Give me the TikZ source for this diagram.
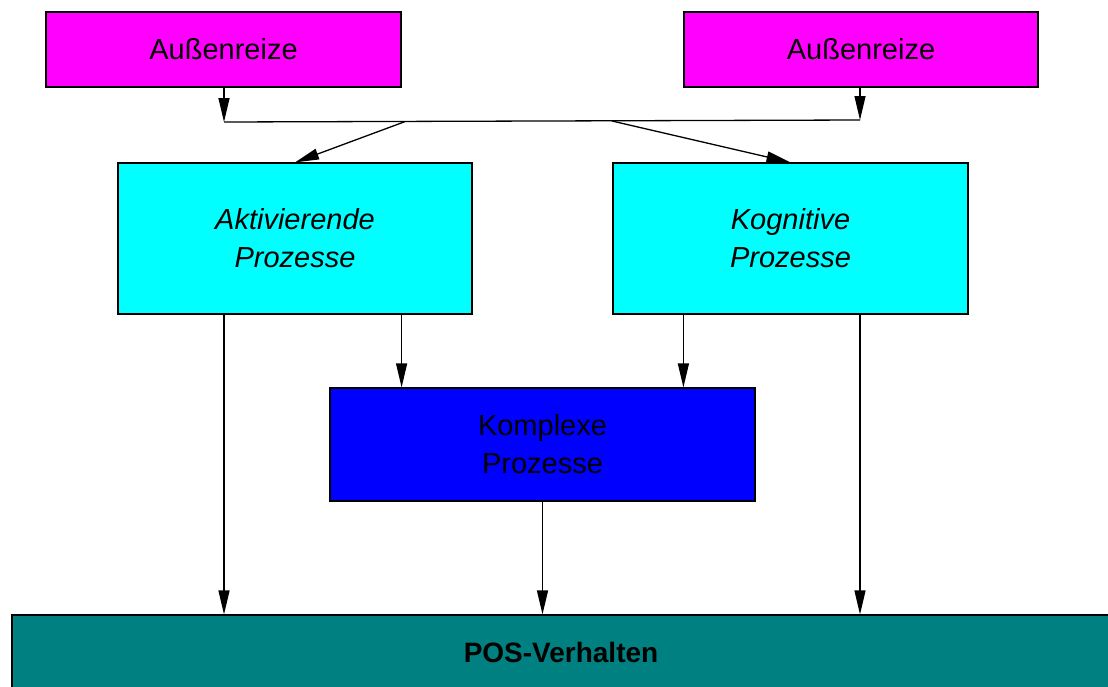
\documentclass[tikz,border=0pt]{standalone}
\usepackage{fontspec}
\setmainfont{Liberation Sans}
\usetikzlibrary{arrows.meta}
\definecolor{cmag}{RGB}{255,0,255}
\definecolor{ccyan}{RGB}{0,255,255}
\definecolor{cblue}{RGB}{0,0,255}
\definecolor{cteal}{RGB}{0,128,128}
\begin{document}
\begin{tikzpicture}[x=1pt,y=-1pt,
  box/.style={draw=black, line width=1.2pt, inner sep=0pt, align=center, font=\fontsize{29}{38}\selectfont},
  arr/.style={line width=1.3pt, -{Triangle[length=24pt,width=11pt]}},
  ln/.style={line width=1.3pt}]
\useasboundingbox (0,0) rectangle (1108,686);
\node[box, fill=cmag, minimum width=355pt, minimum height=75pt] (a1) at (223.5,49.5) {Außenreize};
\node[box, fill=cmag, minimum width=354pt, minimum height=75pt] (a2) at (861,49.5) {Außenreize};
\node[box, fill=ccyan, minimum width=354pt, minimum height=151pt] (akt) at (295,238.5) {\itshape Aktivierende\\\itshape Prozesse};
\node[box, fill=ccyan, minimum width=355pt, minimum height=151pt] (kog) at (790.5,238.5) {\itshape Kognitive\\\itshape Prozesse};
\node[box, fill=cblue, minimum width=425pt, minimum height=113pt] (kom) at (542.5,444.5) {Komplexe\\Prozesse};
\node[box, fill=cteal, minimum width=1098pt, minimum height=75pt, font=\fontsize{28}{34}\selectfont\bfseries] (pos) at (561,652.5) {POS-Verhalten};
\coordinate (jl) at (224,122);
\coordinate (jr) at (860,120);
\coordinate (s1) at (405,121.6);
\coordinate (s2) at (612,121);
\draw[arr] (a1.south -| jl) -- (jl);
\draw[arr] (a2.south -| jr) -- (jr);
\draw[ln] (jl) -- (jr);
\draw[arr] (s1) -- (akt.north);
\draw[arr] (s2) -- (kog.north);
\draw[arr] (akt.south -| jl) -- (pos.north -| jl);
\draw[arr] (akt.south -| a1.east) -- (kom.north -| a1.east);
\draw[arr] (kog.south -| a2.west) -- (kom.north -| a2.west);
\draw[arr] (kog.south -| jr) -- (pos.north -| jr);
\draw[arr] (kom.south) -- (pos.north -| kom.south);
\end{tikzpicture}
\end{document}
